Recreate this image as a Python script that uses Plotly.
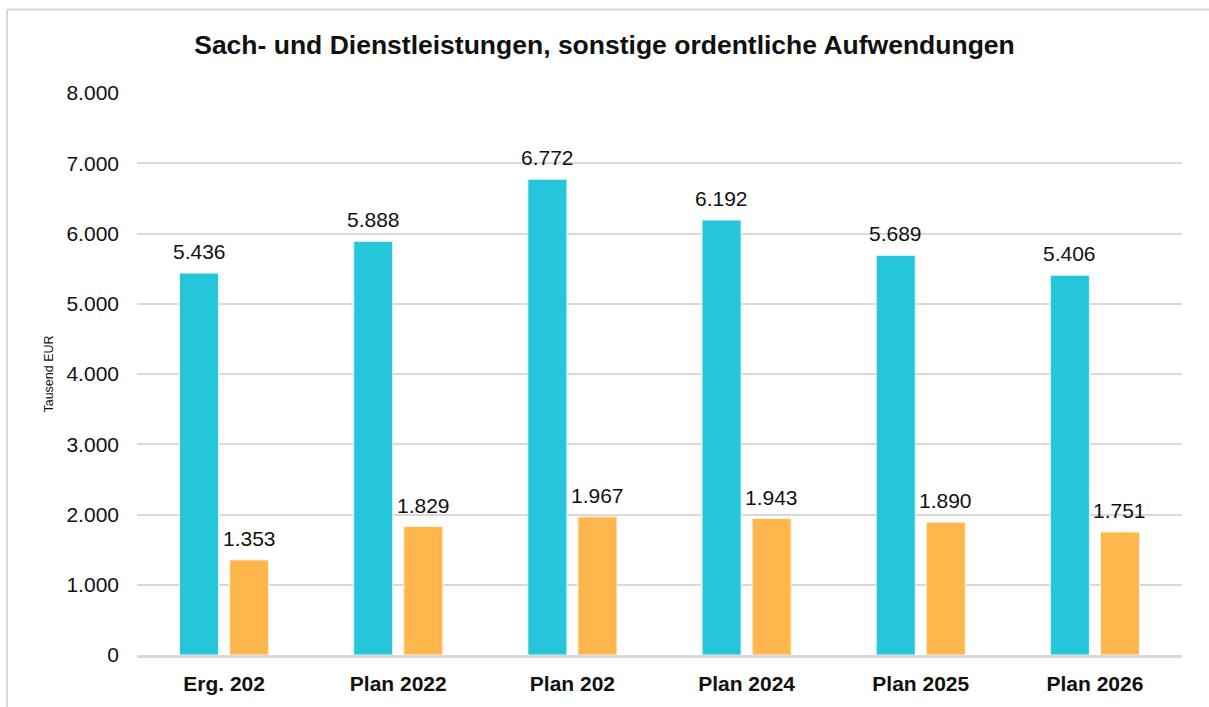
import plotly.graph_objects as go

categories = ["Erg. 202", "Plan 2022", "Plan 202", "Plan 2024", "Plan 2025", "Plan 2026"]
series_a = [5436, 5888, 6772, 6192, 5689, 5406]
series_b = [1353, 1829, 1967, 1943, 1890, 1751]
y_ticks = [0, 1000, 2000, 3000, 4000, 5000, 6000, 7000, 8000]

FONT = "Liberation Sans, Arial, sans-serif"
COL_A = "#26C6DA"
COL_B = "#FFB74D"

W, H = 1209, 707
L, R, T, B = 137, 27, 93, 49

fig = go.Figure()
fig.add_trace(go.Bar(
    x=categories, y=series_a, name="Reihe 1",
    marker=dict(color=COL_A, line=dict(color="#E6F8FA", width=1)),
))
fig.add_trace(go.Bar(
    x=categories, y=series_b, name="Reihe 2",
    marker=dict(color=COL_B, line=dict(color="#FFF4E3", width=1)),
))


def fmt(v):
    return f"{v:,.0f}".replace(",", ".")


annotations = []
for series, shift in ((series_a, -25), (series_b, 25)):
    for c, v in zip(categories, series):
        annotations.append(dict(
            x=c, y=v, xref="x", yref="y", text=fmt(v), showarrow=False,
            xanchor="center", yanchor="bottom", xshift=shift, yshift=8,
            font=dict(size=21, color="#111111", family=FONT),
        ))

bx0 = (7 - L) / (W - L - R)
by1 = (H - B - 9) / (H - T - B)
fig.update_layout(
    width=W, height=H,
    margin=dict(l=L, r=R, t=T, b=B),
    paper_bgcolor="white", plot_bgcolor="white",
    separators=",.",
    showlegend=False,
    barmode="group", bargap=0.425, bargroupgap=0.22,
    font=dict(family=FONT, color="#111111"),
    title=dict(text="<b>Sach- und Dienstleistungen, sonstige ordentliche Aufwendungen</b>",
               x=0.5, xanchor="center", y=1 - 45 / H, yanchor="middle",
               font=dict(size=26.5, color="#111111", family=FONT)),
    xaxis=dict(
        tickfont=dict(size=21, color="#111111", family=FONT),
        tickprefix="<b>", ticksuffix="</b>",
        showline=True, linecolor="#D9D9D9", linewidth=3,
        showgrid=False, ticks="", ticklabelstandoff=8,
    ),
    yaxis=dict(
        range=[0, 8000], tickvals=y_ticks, tickformat=",.0f",
        tickfont=dict(size=21, color="#111111", family=FONT),
        showgrid=True, gridcolor="#D9D9D9", gridwidth=2,
        zeroline=False, showline=False, ticks="",
        ticklabelstandoff=17,
        title=dict(text="Tausend EUR", font=dict(size=12.5, color="#111111", family=FONT),
                   standoff=10),
    ),
    annotations=annotations,
    shapes=[
        dict(type="line", xref="paper", yref="paper", x0=bx0, x1=1.1, y0=by1, y1=by1,
             line=dict(color="#D9D9D9", width=2), layer="below"),
        dict(type="line", xref="paper", yref="paper", x0=bx0, x1=bx0, y0=-0.2, y1=by1,
             line=dict(color="#D9D9D9", width=2), layer="below"),
    ],
)

fig.write_html(
    "out.html",
    config={"displayModeBar": False},
    post_script="document.body.style.margin='0';document.body.style.overflow='hidden';",
)
